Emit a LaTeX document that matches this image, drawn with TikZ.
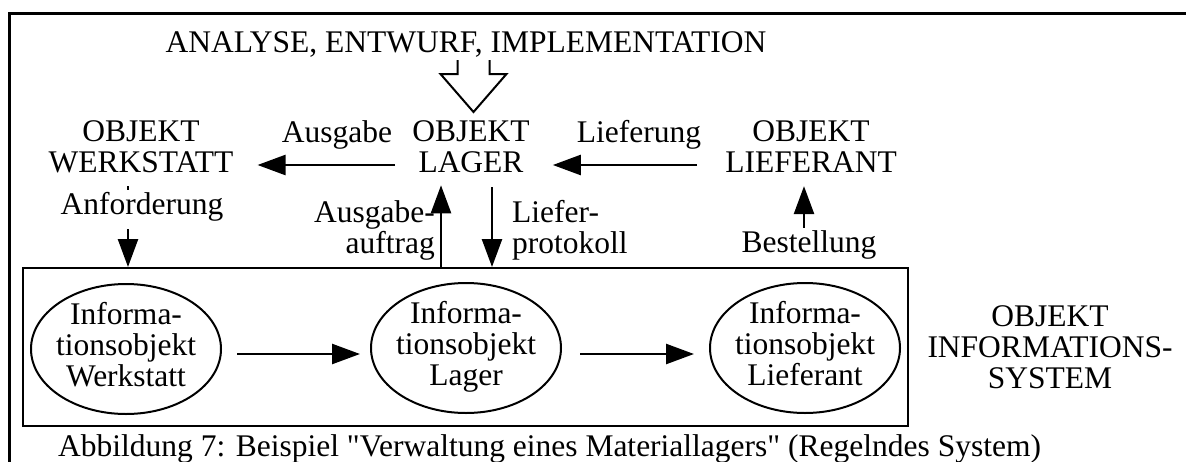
\documentclass[tikz,border=0pt]{standalone}
\usepackage{fontspec}
\setmainfont{Liberation Serif}
\newfontfamily\plainfont{Liberation Serif}
\usetikzlibrary{arrows.meta,shapes.geometric}
\newcommand\bigfs{\fontsize{31.5}{31}\selectfont}
\newcommand\sq{{\plainfont\symbol{34}}}
\begin{document}
\begin{tikzpicture}[x=1pt,y=-1pt,
  font=\bigfs,
  objlbl/.style={align=center,inner sep=4pt},
  lbl/.style={inner sep=2pt},
  arr/.style={-{Triangle[length=28pt,width=20pt]},line width=2.5pt},
  infobj/.style={ellipse,draw,line width=2pt,align=center,
    inner xsep=-5pt,inner ysep=-3pt,minimum width=190pt,minimum height=130pt},
  frame/.style={line width=3pt},
  sysbox/.style={draw,line width=2pt,inner sep=0pt,minimum width=885pt,minimum height=158pt}
]
\useasboundingbox (0,0) rectangle (1186,461);
% outer frame (cut by page edge)
\draw[frame] (1200,13) -- (9,13) -- (9,480);

% title and hollow arrow
\node[lbl,anchor=base] (title) at (466,52) {ANALYSE, ENTWURF, IMPLEMENTATION};
\coordinate (ha) at (473.5,60);
\draw[line width=2pt,line join=miter] ([xshift=-16pt]ha) -- ++(0,14) -- ++(-17,0) -- ++(33,38)
  -- ++(33,-38) -- ++(-17,0) -- ++(0,-14);

% objects
\node[objlbl] (lager) at (471,147) {OBJEKT\\LAGER};
\node[objlbl] (werk) at (141,147) {OBJEKT\\WERKSTATT};
\node[objlbl] (lief) at (811,147) {OBJEKT\\LIEFERANT};

\node[lbl,anchor=base] (ausgabe) at (337,142) {Ausgabe};
\node[lbl,anchor=base] (lieferung) at (639,142) {Lieferung};

\draw[arr,shorten <=13pt,shorten >=20pt] (lager.west |- 0,165) -- (werk.east |- 0,165);
\draw[arr,shorten <=24pt,shorten >=19pt] (lief.west |- 0,165) -- (lager.east |- 0,165);

% information system box
\node[sysbox] (box) at (465.5,347) {};
\node[infobj] (ew) at (126,349) {Informa-\\tionsobjekt\\Werkstatt\strut};
\node[infobj] (el) at (466,348) {Informa-\\tionsobjekt\\Lager\strut};
\node[infobj] (ef) at (805,348) {Informa-\\tionsobjekt\\Lieferant\strut};
\draw[arr,shorten <=15pt,shorten >=10pt] (ew.east |- 0,354) -- (el.west |- 0,354);
\draw[arr,shorten <=18pt,shorten >=15pt] (el.east |- 0,354) -- (ef.west |- 0,354);

\node[objlbl,inner sep=0pt] (sys) at (1050,347) {OBJEKT\\INFORMATIONS-\\SYSTEM};

% vertical connectors
\node[lbl,anchor=base] (anf) at (142,214) {Anforderung};
\draw[line width=2.5pt,shorten <=9pt] (werk.south -| 128,0) -- (anf.north -| 128,0);
\draw[arr,shorten <=6pt] (anf.south -| 128,0) -- (box.north -| 128,0);

\node[lbl,align=right,anchor=east] (ausauf) at (437,230) {Ausgabe-\\auftrag};
\draw[arr,shorten >=8pt] (box.north -| 441,0) -- (lager.south -| 441,0);

\node[lbl,align=left,anchor=west] (liefprot) at (510,230) {Liefer-\\protokoll};
\draw[arr,shorten <=10pt] (lager.south -| 492,0) -- (box.north -| 492,0);

\node[lbl,anchor=base] (best) at (809,252) {Bestellung};
\draw[arr,shorten >=9pt] (best.north -| 804,0) -- (lief.south -| 804,0);

% caption
\node[lbl,anchor=base west,inner sep=0pt] (cap) at (58,456) {Abbildung 7: Beispiel \sq Verwaltung eines Materiallagers\sq{} (Regelndes System)};
\end{tikzpicture}
\end{document}
